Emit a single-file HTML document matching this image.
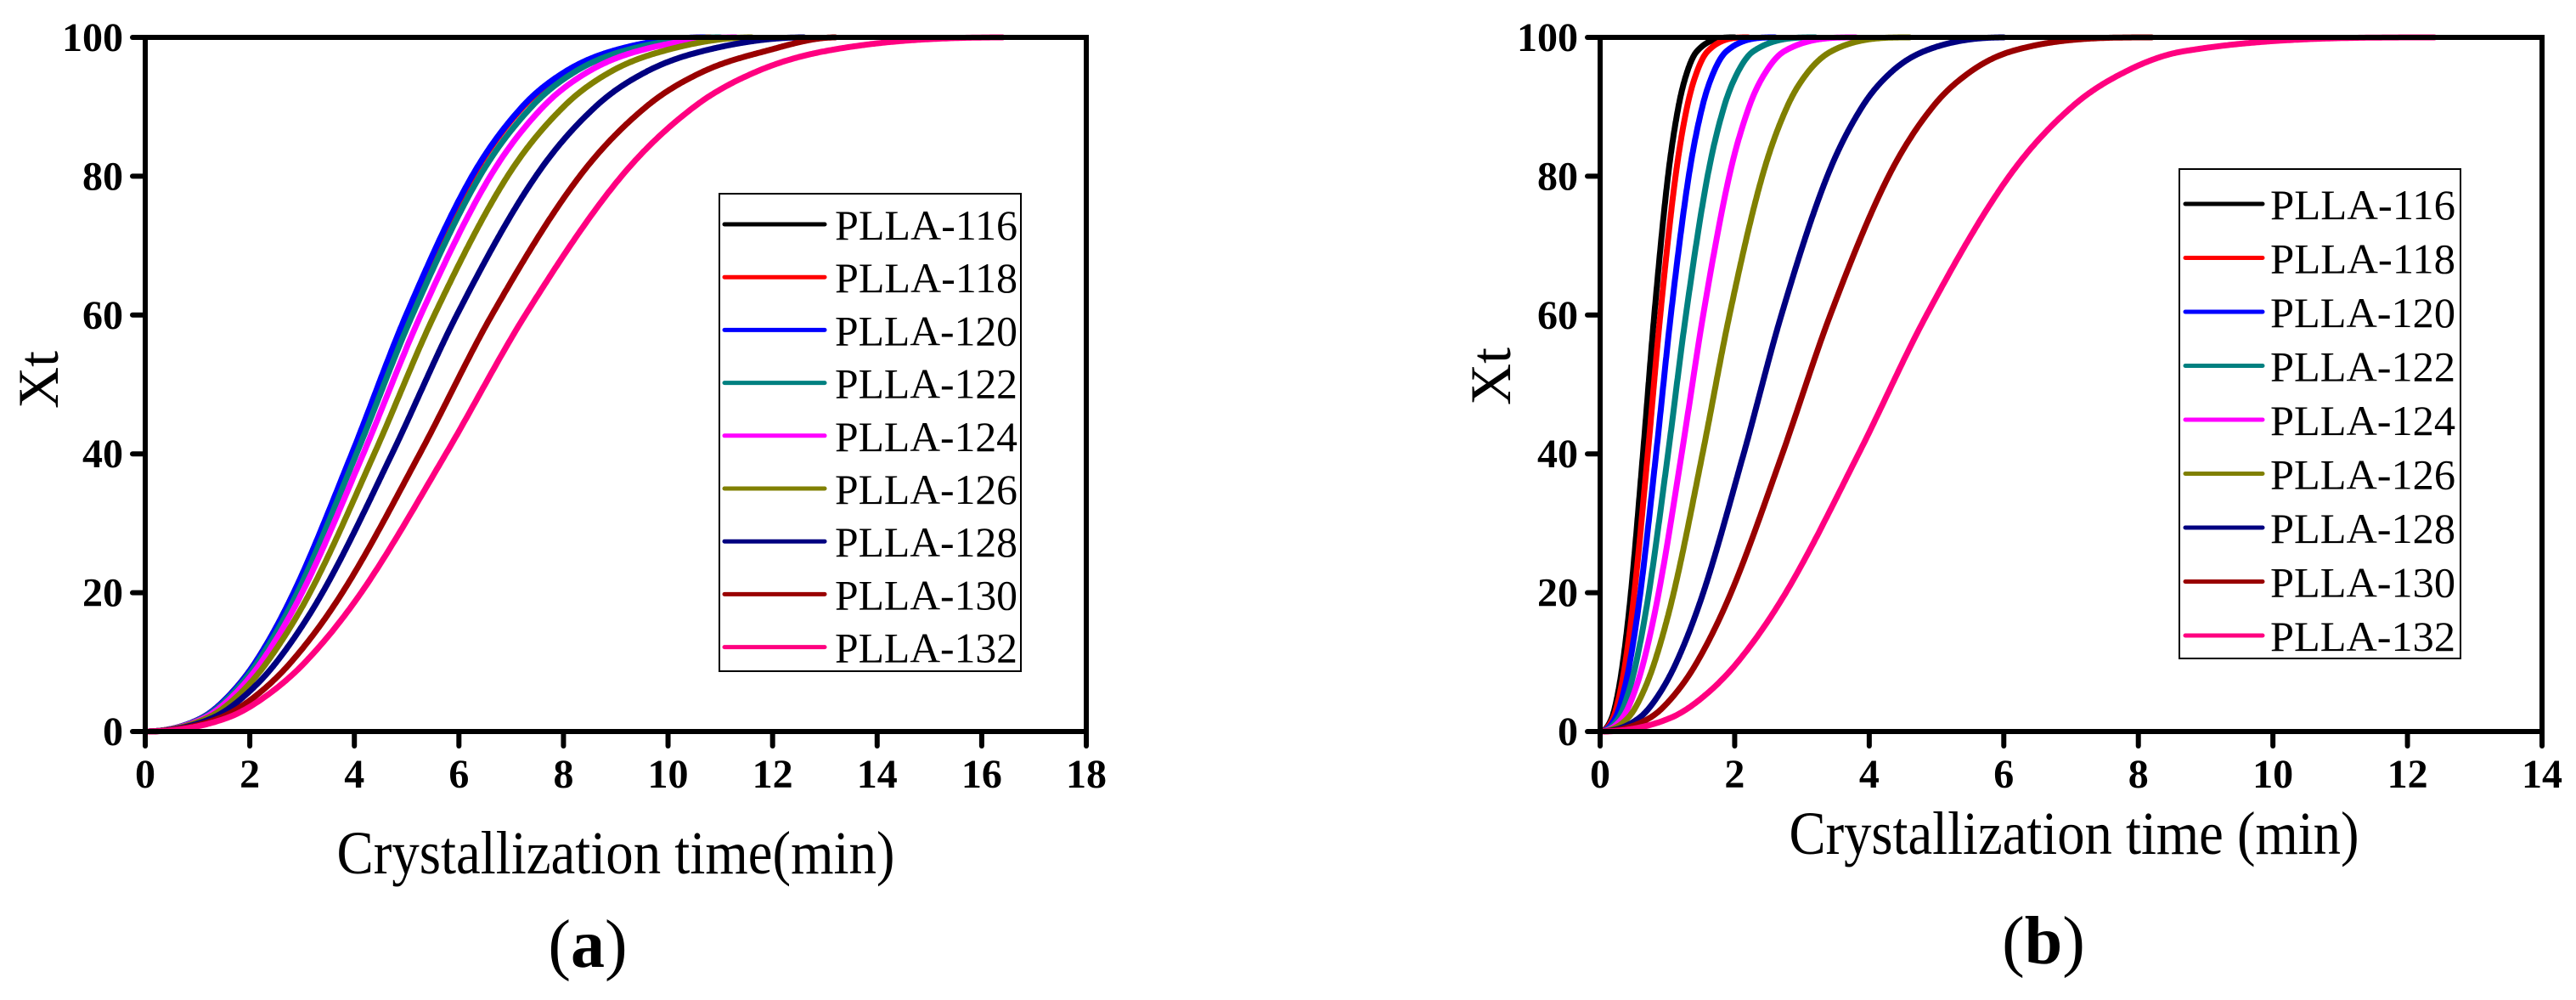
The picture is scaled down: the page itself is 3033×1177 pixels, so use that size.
<!DOCTYPE html>
<html><head><meta charset="utf-8"><style>
html,body{margin:0;padding:0;background:#fff;}
svg{display:block;}
text{font-family:"Liberation Serif",serif;fill:#000;}
</style></head><body>
<svg id="fig" width="3033" height="1177" viewBox="0 0 3033 1177" xmlns="http://www.w3.org/2000/svg"></svg>
<script>
const seriesNames = ["PLLA-116","PLLA-118","PLLA-120","PLLA-122","PLLA-124","PLLA-126","PLLA-128","PLLA-130","PLLA-132"];
const seriesColors = ["#000000","#ff0000","#0000ff","#008080","#ff00ff","#808000","#000080","#990000","#ff0080"];
const xtLevels = [0,2,5,10,20,40,60,80,90,95,98,100];
// panel (a): time (min) at each Xt level
const a116 = [0,1.09,1.58,2.11,2.84,3.96,5.0,6.26,7.22,8.03,8.93,10.8];
const a118 = [0,1.09,1.58,2.11,2.85,3.97,5.01,6.27,7.23,8.05,8.95,10.8];
const a120 = [0,1.09,1.58,2.11,2.84,3.95,4.99,6.25,7.21,8.02,8.92,10.7];
const a122 = [0,1.11,1.61,2.15,2.91,4.04,5.11,6.40,7.39,8.21,9.13,11.0];
const a124 = [0,1.14,1.66,2.22,3.0,4.17,5.27,6.6,7.61,8.46,9.41,11.3];
const a126 = [0,1.2,1.75,2.33,3.15,4.38,5.53,6.93,8.0,8.89,9.89,11.6];
const a128 = [0,1.3,1.88,2.51,3.39,4.72,5.96,7.47,8.61,9.57,10.65,12.6];
const a130 = [0,1.44,2.09,2.79,3.77,5.25,6.63,8.31,9.58,10.65,11.85,13.2];
const a132 = [0,1.58,2.29,3.06,4.13,5.75,7.27,9.11,10.5,11.67,12.99,16.4];
// panel (b)
const b116 = [0,0.175,0.254,0.339,0.458,0.637,0.805,1.009,1.164,1.293,1.439,2.0];
const b118 = [0,0.194,0.282,0.377,0.509,0.708,0.894,1.121,1.293,1.437,1.598,2.2];
const b120 = [0,0.228,0.332,0.443,0.598,0.832,1.051,1.317,1.519,1.688,1.878,2.6];
const b122 = [0,0.277,0.402,0.537,0.725,1.009,1.275,1.597,1.842,2.047,2.278,3.2];
const b124 = [0,0.333,0.484,0.645,0.871,1.212,1.532,1.919,2.214,2.461,2.737,3.8];
const b126 = [0,0.418,0.607,0.81,1.094,1.522,1.923,2.41,2.78,3.089,3.437,4.6];
const b128 = [0,0.586,0.851,1.135,1.533,2.133,2.694,3.376,3.895,4.328,4.815,6.0];
const b130 = [0,0.744,1.08,1.441,1.946,2.708,3.421,4.287,4.945,5.496,6.114,8.2];
const b132 = [0,1.055,1.532,2.044,2.76,3.841,4.852,6.08,7.013,7.795,8.671,12.4];
const xTicksA = [0,2,4,6,8,10,12,14,16,18];
const xTicksB = [0,2,4,6,8,10,12,14];
const yTicks = [0,20,40,60,80,100];

const NS="http://www.w3.org/2000/svg";
const svg=document.getElementById('fig');
function mk(tag,attrs,parent){const e=document.createElementNS(NS,tag);for(const k in attrs)e.setAttribute(k,attrs[k]);(parent||svg).appendChild(e);return e;}

function monotone(xs,ys){
  const n=xs.length,d=[],m=new Array(n);
  for(let i=0;i<n-1;i++)d.push((ys[i+1]-ys[i])/(xs[i+1]-xs[i]));
  m[0]=0;m[n-1]=0;
  for(let i=1;i<n-1;i++){m[i]=(d[i-1]*d[i]<=0)?0:(d[i-1]+d[i])/2;}
  for(let i=0;i<n-1;i++){if(d[i]===0){m[i]=m[i+1]=0;continue;}const a=m[i]/d[i],b=m[i+1]/d[i],s=a*a+b*b;if(s>9){const t=3/Math.sqrt(s);m[i]=t*a*d[i];m[i+1]=t*b*d[i];}}
  return x=>{let i=0;while(i<n-2&&x>xs[i+1])i++;const h=xs[i+1]-xs[i],t=(x-xs[i])/h,t2=t*t,t3=t2*t;
    return (2*t3-3*t2+1)*ys[i]+(t3-2*t2+t)*h*m[i]+(-2*t3+3*t2)*ys[i+1]+(t3-t2)*h*m[i+1];};
}

function panel(cfg){
  const g=mk('g',{});
  
  
  const X=v=>cfg.x0+(v-0)/(cfg.xmax)*(cfg.x1-cfg.x0);
  const Y=v=>cfg.y0-(v/100)*(cfg.y0-cfg.y1);
  const cg=mk('g',{},g);
  cfg.series.forEach((arr,si)=>{
    const f=monotone(arr,xtLevels);
    const tEnd=arr[arr.length-1];
    let pts=[];
    for(let k=0;k<=500;k++){const t=tEnd*k/500;const v=Math.max(0,Math.min(100,f(t)));pts.push(X(t).toFixed(1)+','+Y(v).toFixed(1));}
    const p=mk('polyline',{points:pts.join(' '),fill:'none',stroke:seriesColors[si],'stroke-width':7,'stroke-linejoin':'round','stroke-linecap':'round'},cg);
    
    
  });
  const fr=mk('rect',{x:cfg.x0,y:cfg.y1,width:cfg.x1-cfg.x0,height:cfg.y0-cfg.y1,fill:'none',stroke:'#000','stroke-width':6},g);
  
  
  cfg.xticks.forEach(t=>{
    const x=X(t);
    mk('line',{x1:x,y1:cfg.y0,x2:x,y2:cfg.y0+17,stroke:'#000','stroke-width':6,'stroke-linecap':'round'},g);
    const tx=mk('text',{x:x,y:927,'font-size':48,'font-weight':'bold','text-anchor':'middle'},g);
    tx.textContent=t;
    
    
  });
  yTicks.forEach(t=>{
    const y=Y(t);
    mk('line',{x1:cfg.x0-15,y1:y,x2:cfg.x0,y2:y,stroke:'#000','stroke-width':6,'stroke-linecap':'round'},g);
    const tx=mk('text',{x:cfg.x0-26,y:y+16,'font-size':48,'font-weight':'bold','text-anchor':'end'},g);
    tx.textContent=t;
    
    
  });
  const yt=mk('text',{x:0,y:0,'font-size':68,'text-anchor':'middle',transform:`translate(${cfg.ytx},${cfg.yty}) rotate(-90)`,dy:23},g);
  yt.textContent='Xt';
  
  
  const xt=mk('text',{x:cfg.xtx,y:cfg.xty+22,'font-size':72,'text-anchor':'middle',textLength:cfg.xtw,lengthAdjust:'spacingAndGlyphs'},g);
  xt.textContent=cfg.xtitle;
  
  
  const lab=mk('text',{x:cfg.labx,y:cfg.laby,'font-size':80,'text-anchor':'middle'},g);
  lab.innerHTML='(<tspan font-weight="bold">'+cfg.lab+'</tspan>)';
  
  
  const lg=mk('g',{},g);
  
  
  const L=cfg.leg;
  mk('rect',{x:L.x,y:L.y,width:L.w,height:L.h,fill:'#fff',stroke:'#000','stroke-width':2},lg);
  seriesNames.forEach((nm,i)=>{
    const y=L.e0+i*L.sp;
    const e=mk('g',{},lg);
    
    
    mk('line',{x1:L.lx1,y1:y,x2:L.lx2,y2:y,stroke:seriesColors[i],'stroke-width':5,'stroke-linecap':'round'},e);
    const t=mk('text',{x:L.tx,y:y+18,'font-size':50,textLength:L.tw,lengthAdjust:'spacingAndGlyphs'},e);
    t.textContent=nm;
  });
}

panel({id:'chart-a',x0:171,x1:1279,y0:861,y1:44,xmax:18,xticks:xTicksA,
  series:[a116,a118,a120,a122,a124,a126,a128,a130,a132],
  ytx:45,yty:447,xtx:725,xty:1006,xtw:657,xtitle:'Crystallization time(min)',labx:692,laby:1138,lab:'a',
  leg:{x:847,y:228,w:355,h:562,e0:264,sp:62.2,lx1:853,lx2:971,tx:983,tw:215}});
panel({id:'chart-b',x0:1884,x1:2993,y0:861,y1:44,xmax:14,xticks:xTicksB,
  series:[b116,b118,b120,b122,b124,b126,b128,b130,b132],
  ytx:1755,yty:443,xtx:2442,xty:983,xtw:671,xtitle:'Crystallization time (min)',labx:2406,laby:1134,lab:'b',
  leg:{x:2566,y:199,w:331,h:576,e0:240,sp:63.5,lx1:2573,lx2:2664,tx:2673,tw:218}});
</script>
</body></html>
